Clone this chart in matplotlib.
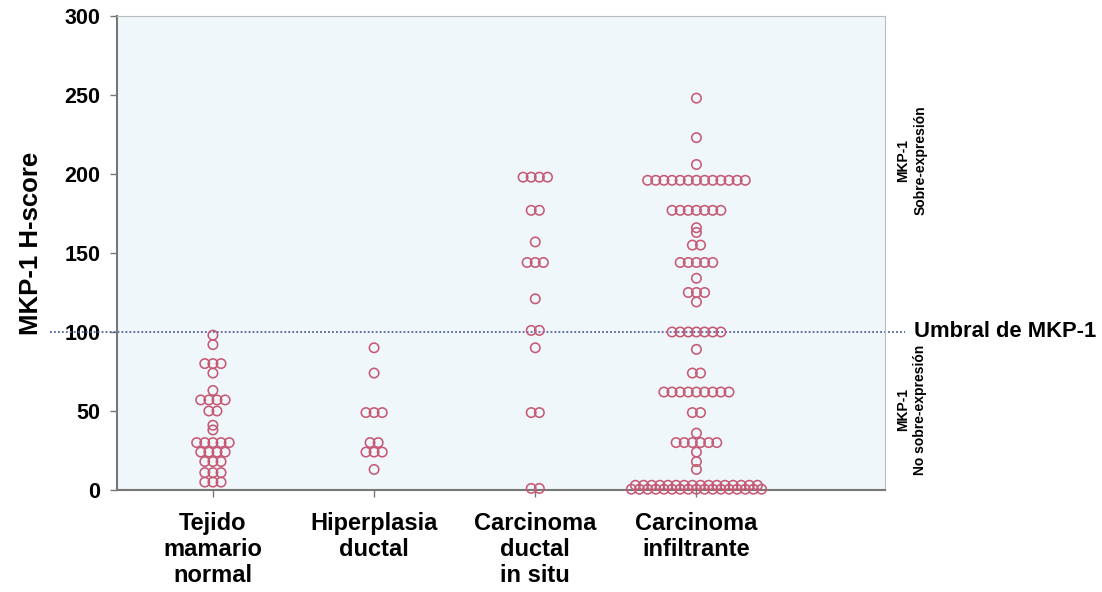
import numpy as np
import matplotlib
matplotlib.use("Agg")
import matplotlib.pyplot as plt
from collections import Counter

plt.rcParams["font.family"] = ["Liberation Sans", "DejaVu Sans"]

# Category labels and H-score values per group
categories = ["Tejido\nmamario\nnormal", "Hiperplasia\nductal",
              "Carcinoma\nductal\nin situ", "Carcinoma\ninfiltrante"]

tejido_normal = [98, 92, 80, 80, 80, 74, 63, 57, 57, 57, 57, 50, 50, 41, 38,
                 30, 30, 30, 30, 30, 24, 24, 24, 24, 18, 18, 18,
                 11, 11, 11, 5, 5, 5]
hiperplasia = [90, 74, 49, 49, 49, 30, 30, 24, 24, 24, 13]
carcinoma_in_situ = [198, 198, 198, 198, 177, 177, 157, 144, 144, 144,
                     121, 101, 101, 90, 49, 49, 1, 1]
carcinoma_infiltrante = ([248, 223, 206] + [196] * 13 + [177] * 7 +
                         [166, 163, 155, 155] + [144] * 5 +
                         [134] + [125] * 3 + [119] + [100] * 7 + [89] +
                         [74] * 2 + [62] * 9 + [49] * 2 + [36] +
                         [30] * 6 + [24, 18, 13] + [3] * 16 + [0.5] * 17)

groups = [tejido_normal, hiperplasia, carcinoma_in_situ, carcinoma_infiltrante]

y_ticks = [0, 50, 100, 150, 200, 250, 300]
threshold = 100

marker_color = "#C65A74"
panel_color = "#EFF7FB"

fig = plt.figure(figsize=(11.02, 5.92), dpi=100)
ax = fig.add_axes([0.1062, 0.1723, 0.6969, 0.8007])
ax.set_facecolor(panel_color)

ax.set_xlim(0.405, 5.17)
ax.set_ylim(0, 300)

# Horizontal spacing between side-by-side dots (data units)
step = 0.0505
for gi, vals in enumerate(groups, start=1):
    counts = Counter(vals)
    xs, ys = [], []
    for v, n in counts.items():
        offs = (np.arange(n) - (n - 1) / 2) * step
        xs.extend(gi + offs)
        ys.extend([v] * n)
    ax.scatter(xs, ys, s=46, facecolors="none", edgecolors=marker_color,
               linewidths=1.15, clip_on=False, zorder=3)

# Threshold line, extending past the plotting area
ax.plot([-0.087, 1.026], [threshold, threshold], transform=ax.get_yaxis_transform(),
        color="#55609A", linestyle=(0, (1, 1.2)), linewidth=1.3, clip_on=False, zorder=2)

ax.text(1.038, threshold, "Umbral de MKP-1", transform=ax.get_yaxis_transform(),
        ha="left", va="center", fontsize=15.8, fontweight="bold")

ax.text(1.035, 0.696, "MKP-1\nSobre-expresión", transform=ax.transAxes,
        rotation=90, ha="center", va="center", fontsize=10, fontweight="bold",
        linespacing=1.25)
ax.text(1.035, 0.169, "MKP-1\nNo sobre-expresión", transform=ax.transAxes,
        rotation=90, ha="center", va="center", fontsize=10, fontweight="bold",
        linespacing=1.25)

ax.set_yticks(y_ticks)
ax.set_yticklabels([str(t) for t in y_ticks], fontsize=15.5, fontweight="bold")
ax.set_xticks(range(1, len(categories) + 1))
ax.set_xticklabels(categories, fontsize=17, fontweight="bold")
for lbl in ax.get_xticklabels():
    lbl.set_linespacing(1.19)

ax.tick_params(axis="y", direction="out", length=5, width=1, color="#777777", pad=7)
ax.tick_params(axis="x", direction="out", length=5, width=1, color="#777777", pad=10.5)

ax.set_ylabel("MKP-1 H-score", fontsize=18.5, fontweight="bold")
ax.yaxis.set_label_coords(-0.096, 0.521)

for side in ["top", "right"]:
    ax.spines[side].set_color("#BBBBBB")
    ax.spines[side].set_linewidth(0.8)
for side in ["left", "bottom"]:
    ax.spines[side].set_color("#777777")
    ax.spines[side].set_linewidth(1.5)

fig.savefig("out.png", dpi=100, facecolor="white")
